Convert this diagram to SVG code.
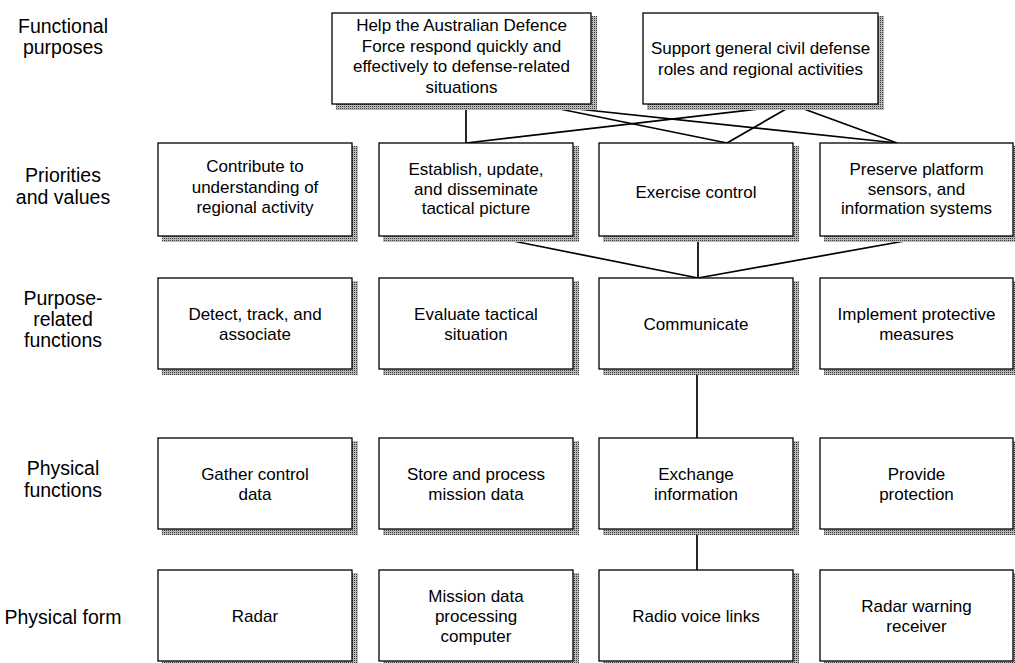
<svg xmlns="http://www.w3.org/2000/svg" width="1015" height="663" viewBox="0 0 1015 663">
<defs>
<pattern id="dots" width="2" height="2" patternUnits="userSpaceOnUse">
<rect width="2" height="2" fill="#b8b8b8"/>
<rect width="1" height="1" fill="#3a3a3a"/>
</pattern>
</defs>
<style>
.box{fill:#fff;stroke:#000;stroke-width:1.3}
.sh{fill:url(#dots)}
.t{font-family:"Liberation Sans",Arial,Helvetica,sans-serif;font-size:17px;fill:#000;text-anchor:middle}
.lab{font-family:"Liberation Sans",Arial,Helvetica,sans-serif;font-size:19.5px;fill:#000;text-anchor:middle}
.c{stroke:#000;stroke-width:1.7;fill:none}
</style>
<rect width="1015" height="663" fill="#fff"/>

<g id="row-labels">
<text class="lab" x="63" y="33">Functional</text>
<text class="lab" x="63" y="54">purposes</text>
<text class="lab" x="63" y="182">Priorities</text>
<text class="lab" x="63" y="204">and values</text>
<text class="lab" x="63" y="305">Purpose-</text>
<text class="lab" x="63" y="326">related</text>
<text class="lab" x="63" y="347">functions</text>
<text class="lab" x="63" y="475">Physical</text>
<text class="lab" x="63" y="497">functions</text>
<text class="lab" x="63" y="624">Physical form</text>
</g>

<g id="connectors">
<line class="c" x1="466" y1="104" x2="466" y2="143"/>
<line class="c" x1="540" y1="105" x2="727" y2="143"/>
<line class="c" x1="540" y1="105" x2="897" y2="143"/>
<line class="c" x1="793" y1="105" x2="466" y2="143"/>
<line class="c" x1="793" y1="105" x2="727" y2="143"/>
<line class="c" x1="793" y1="105" x2="897" y2="143"/>
<line class="c" x1="698" y1="236" x2="698" y2="278"/>
<line class="c" x1="493" y1="237" x2="698" y2="278"/>
<line class="c" x1="927" y1="237" x2="698" y2="278"/>
<line class="c" x1="697" y1="369" x2="697" y2="438"/>
<line class="c" x1="697" y1="529" x2="697" y2="570"/>
</g>

<g id="fp1">
<rect class="sh" x="336" y="16" width="261" height="94"/>
<rect class="box" x="332" y="13" width="259" height="91"/>
<text class="t" x="461.5" y="31">Help the Australian Defence</text>
<text class="t" x="461.5" y="51.5">Force respond quickly and</text>
<text class="t" x="461.5" y="72">effectively to defense-related</text>
<text class="t" x="461.5" y="92.5">situations</text>
</g>
<g id="fp2">
<rect class="sh" x="647" y="16" width="237" height="94"/>
<rect class="box" x="643" y="13" width="235" height="91"/>
<text class="t" x="760.5" y="54">Support general civil defense</text>
<text class="t" x="760.5" y="75">roles and regional activities</text>
</g>

<g id="pv1">
<rect class="sh" x="162" y="146" width="196" height="96"/>
<rect class="box" x="158" y="143" width="194" height="93"/>
<text class="t" x="255" y="172">Contribute to</text>
<text class="t" x="255" y="193">understanding of</text>
<text class="t" x="255" y="213">regional activity</text>
</g>
<g id="pv2">
<rect class="sh" x="383" y="146" width="196" height="96"/>
<rect class="box" x="379" y="143" width="194" height="93"/>
<text class="t" x="476" y="175">Establish, update,</text>
<text class="t" x="476" y="194.5">and disseminate</text>
<text class="t" x="476" y="214">tactical picture</text>
</g>
<g id="pv3">
<rect class="sh" x="603" y="146" width="196" height="96"/>
<rect class="box" x="599" y="143" width="194" height="93"/>
<text class="t" x="696" y="198">Exercise control</text>
</g>
<g id="pv4">
<rect class="sh" x="824" y="146" width="195" height="96"/>
<rect class="box" x="820" y="143" width="193" height="93"/>
<text class="t" x="916.5" y="175">Preserve platform</text>
<text class="t" x="916.5" y="194.5">sensors, and</text>
<text class="t" x="916.5" y="214">information systems</text>
</g>

<g id="prf1">
<rect class="sh" x="162" y="281" width="196" height="94"/>
<rect class="box" x="158" y="278" width="194" height="91"/>
<text class="t" x="255" y="320">Detect, track, and</text>
<text class="t" x="255" y="340">associate</text>
</g>
<g id="prf2">
<rect class="sh" x="383" y="281" width="196" height="94"/>
<rect class="box" x="379" y="278" width="194" height="91"/>
<text class="t" x="476" y="320">Evaluate tactical</text>
<text class="t" x="476" y="340">situation</text>
</g>
<g id="prf3">
<rect class="sh" x="603" y="281" width="196" height="94"/>
<rect class="box" x="599" y="278" width="194" height="91"/>
<text class="t" x="696" y="329.5">Communicate</text>
</g>
<g id="prf4">
<rect class="sh" x="824" y="281" width="195" height="94"/>
<rect class="box" x="820" y="278" width="193" height="91"/>
<text class="t" x="916.5" y="320">Implement protective</text>
<text class="t" x="916.5" y="340">measures</text>
</g>

<g id="pf1">
<rect class="sh" x="162" y="441" width="196" height="94"/>
<rect class="box" x="158" y="438" width="194" height="91"/>
<text class="t" x="255" y="480">Gather control</text>
<text class="t" x="255" y="500">data</text>
</g>
<g id="pf2">
<rect class="sh" x="383" y="441" width="196" height="94"/>
<rect class="box" x="379" y="438" width="194" height="91"/>
<text class="t" x="476" y="480">Store and process</text>
<text class="t" x="476" y="500">mission data</text>
</g>
<g id="pf3">
<rect class="sh" x="603" y="441" width="196" height="94"/>
<rect class="box" x="599" y="438" width="194" height="91"/>
<text class="t" x="696" y="480">Exchange</text>
<text class="t" x="696" y="500">information</text>
</g>
<g id="pf4">
<rect class="sh" x="824" y="441" width="195" height="94"/>
<rect class="box" x="820" y="438" width="193" height="91"/>
<text class="t" x="916.5" y="480">Provide</text>
<text class="t" x="916.5" y="500">protection</text>
</g>

<g id="form1">
<rect class="sh" x="162" y="573" width="196" height="94"/>
<rect class="box" x="158" y="570" width="194" height="91"/>
<text class="t" x="255" y="621.5">Radar</text>
</g>
<g id="form2">
<rect class="sh" x="383" y="573" width="196" height="94"/>
<rect class="box" x="379" y="570" width="194" height="91"/>
<text class="t" x="476" y="602">Mission data</text>
<text class="t" x="476" y="622">processing</text>
<text class="t" x="476" y="642">computer</text>
</g>
<g id="form3">
<rect class="sh" x="603" y="573" width="196" height="94"/>
<rect class="box" x="599" y="570" width="194" height="91"/>
<text class="t" x="696" y="621.5">Radio voice links</text>
</g>
<g id="form4">
<rect class="sh" x="824" y="573" width="195" height="94"/>
<rect class="box" x="820" y="570" width="193" height="91"/>
<text class="t" x="916.5" y="612">Radar warning</text>
<text class="t" x="916.5" y="632">receiver</text>
</g>
</svg>
